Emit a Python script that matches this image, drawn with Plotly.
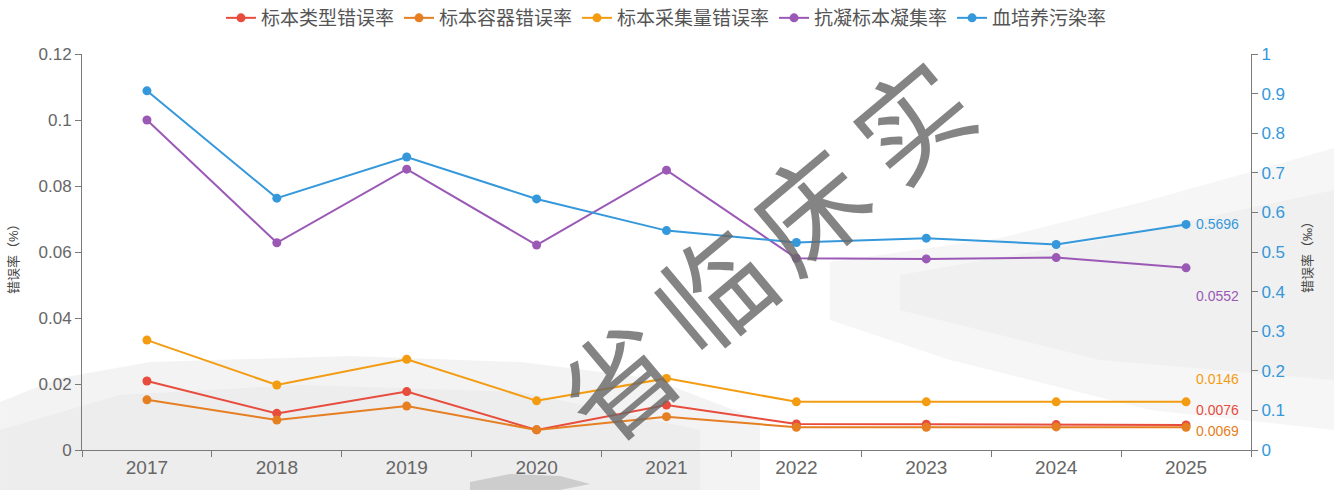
import plotly.graph_objects as go

# ---- data ----
years = ["2017", "2018", "2019", "2020", "2021", "2022", "2023", "2024", "2025"]

type_err = [0.0209, 0.0111, 0.0177, 0.0061, 0.0136, 0.0079, 0.0078, 0.0077, 0.0076]        # 标本类型错误率
container_err = [0.0152, 0.0091, 0.0133, 0.0061, 0.0101, 0.0069, 0.0069, 0.0070, 0.0069]   # 标本容器错误率
volume_err = [0.0333, 0.0197, 0.0275, 0.0149, 0.0217, 0.0146, 0.0146, 0.0146, 0.0146]      # 标本采集量错误率
clot_rate = [0.1000, 0.0628, 0.0851, 0.0621, 0.0848, 0.0581, 0.0579, 0.0583, 0.0552]       # 抗凝标本凝集率
blood_contam = [0.907, 0.636, 0.740, 0.634, 0.554, 0.524, 0.535, 0.519, 0.5696]            # 血培养污染率 (right axis)

left_ticks = [0, 0.02, 0.04, 0.06, 0.08, 0.1, 0.12]
left_tick_text = ["0", "0.02", "0.04", "0.06", "0.08", "0.1", "0.12"]
right_ticks = [0, 0.1, 0.2, 0.3, 0.4, 0.5, 0.6, 0.7, 0.8, 0.9, 1]
right_tick_text = ["0", "0.1", "0.2", "0.3", "0.4", "0.5", "0.6", "0.7", "0.8", "0.9", "1"]

watermark_chars = ["省", "临", "床", "实"]

# ---- styling ----
W, H = 1334, 490
ML, MR, MT, MB = 82, 83, 54, 40
PW, PH = W - ML - MR, H - MT - MB

FONT = "Arial, Liberation Sans, Noto Sans CJK SC, sans-serif"
AXIS_GRAY = "#7a7a7a"
TEXT_GRAY = "#666666"

series = [
    ("标本类型错误率", type_err, "#e74c3c", "y"),
    ("标本容器错误率", container_err, "#e67e22", "y"),
    ("标本采集量错误率", volume_err, "#f39c12", "y"),
    ("抗凝标本凝集率", clot_rate, "#9b59b6", "y"),
    ("血培养污染率", blood_contam, "#3498db", "y2"),
]


def px(x):
    """pixel x -> paper x"""
    return (x - ML) / PW


def py(y):
    """pixel y -> paper y"""
    return (H - MB - y) / PH


fig = go.Figure()

for name, vals, color, axis in series:
    fig.add_trace(go.Scatter(
        x=years, y=vals, name=name, yaxis=axis,
        mode="lines+markers",
        line=dict(color=color, width=2),
        marker=dict(color=color, size=9, symbol="circle"),
    ))

# end-of-line value labels (vertical shifts keep neighbouring labels apart)
end_label_yshift = [15, -4, 23, -28, 0]
last_idx = len(years) - 1
annotations = []
for (name, vals, color, axis), dy in zip(series, end_label_yshift):
    annotations.append(dict(
        x=last_idx, y=vals[-1], xref="x", yref=axis,
        text=f"{vals[-1]:.4f}", showarrow=False,
        xanchor="left", yanchor="middle", xshift=8, yshift=dy,
        font=dict(family=FONT, size=14, color=color),
    ))

# axis titles
annotations.append(dict(
    x=px(13), y=py(256), xref="paper", yref="paper", text="错误率（%）",
    showarrow=False, textangle=-90, xanchor="center", yanchor="middle",
    font=dict(family=FONT, size=13, color="#444444"),
))
annotations.append(dict(
    x=px(1308), y=py(254), xref="paper", yref="paper", text="错误率（‰）",
    showarrow=False, textangle=-90, xanchor="center", yanchor="middle",
    font=dict(family=FONT, size=13, color="#444444"),
))

# calligraphy watermark along the diagonal
wm_pos = [(615, 377), (710, 287), (806, 205), (909, 117)]
for ch, (wx, wy) in zip(watermark_chars, wm_pos):
    annotations.append(dict(
        x=px(wx), y=py(wy), xref="paper", yref="paper", text=ch,
        showarrow=False, textangle=-40, xanchor="center", yanchor="middle",
        font=dict(family="Noto Sans CJK SC", size=112, color="rgba(105,105,105,0.82)", weight=400),
    ))


def poly(points, fill):
    path = "M " + " L ".join(f"{px(a):.4f},{py(b):.4f}" for a, b in points) + " Z"
    return dict(type="path", path=path, xref="paper", yref="paper",
                fillcolor=fill, line=dict(width=0), layer="below")


# soft ink-wash background strokes
shapes = [
    poly([(0, 402), (60, 378), (150, 362), (350, 356), (520, 362), (650, 378), (760, 420),
          (760, 490), (0, 490)], "rgba(160,160,160,0.12)"),
    poly([(0, 430), (120, 395), (300, 385), (520, 392), (700, 430), (700, 490), (0, 490)],
         "rgba(160,160,160,0.08)"),
    poly([(470, 482), (510, 474), (560, 476), (590, 484), (560, 490), (470, 490)],
         "rgba(110,110,110,0.25)"),
    poly([(830, 262), (1000, 238), (1150, 200), (1250, 172), (1334, 148), (1334, 430),
          (1150, 410), (950, 360), (830, 320)], "rgba(150,150,150,0.09)"),
    poly([(900, 275), (1100, 240), (1334, 190), (1334, 380), (1100, 360), (900, 310)],
         "rgba(150,150,150,0.06)"),
]

fig.update_layout(
    width=W, height=H,
    margin=dict(l=ML, r=MR, t=MT, b=MB, autoexpand=False),
    paper_bgcolor="white", plot_bgcolor="rgba(0,0,0,0)",
    font=dict(family=FONT, color=TEXT_GRAY),
    showlegend=True,
    legend=dict(
        orientation="h", x=0.5, xanchor="center", y=py(18), yanchor="middle",
        font=dict(family=FONT, size=19, color="#555555"),
        bgcolor="rgba(0,0,0,0)", itemwidth=30, tracegroupgap=0,
    ),
    xaxis=dict(
        type="category", categoryorder="array", categoryarray=years,
        range=[-0.5, len(years) - 0.5],
        showline=True, linecolor=AXIS_GRAY, linewidth=1,
        ticks="outside", tickson="boundaries", ticklen=6, tickcolor=AXIS_GRAY,
        showgrid=False, zeroline=False,
        tickfont=dict(family=FONT, size=19, color=TEXT_GRAY),
    ),
    yaxis=dict(
        range=[0, 0.12], tickvals=left_ticks, ticktext=left_tick_text,
        showline=True, linecolor=AXIS_GRAY, linewidth=1,
        ticks="outside", ticklen=6, tickcolor=AXIS_GRAY,
        showgrid=False, zeroline=False,
        tickfont=dict(family=FONT, size=17, color=TEXT_GRAY),
    ),
    yaxis2=dict(
        range=[0, 1], tickvals=right_ticks, ticktext=right_tick_text,
        overlaying="y", side="right",
        showline=True, linecolor=AXIS_GRAY, linewidth=1,
        ticks="outside", ticklen=6, tickcolor=AXIS_GRAY,
        showgrid=False, zeroline=False,
        tickfont=dict(family=FONT, size=17, color="#3498db"),
    ),
    annotations=annotations,
    shapes=shapes,
)

fig.write_html("out.html")
